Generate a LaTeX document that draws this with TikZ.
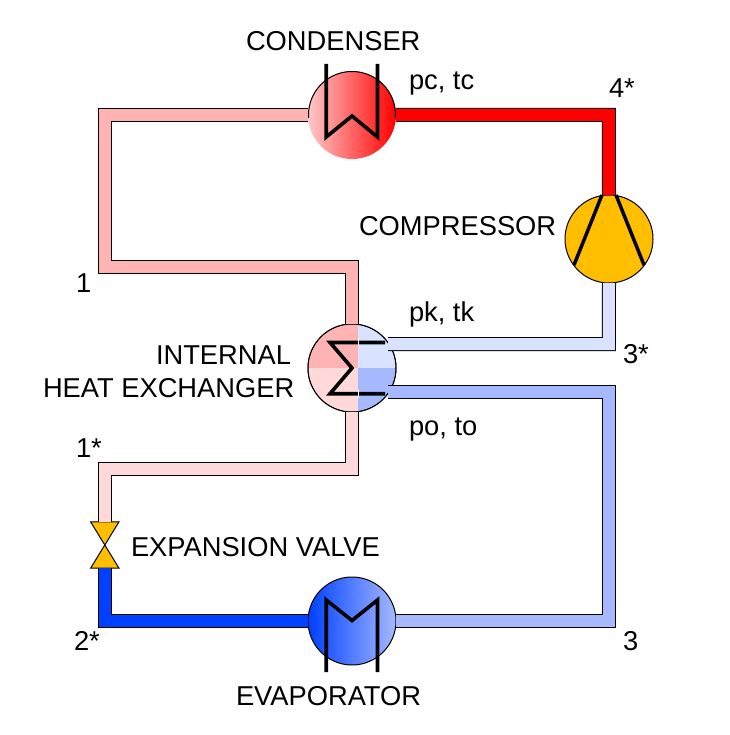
\documentclass[tikz,border=0pt]{standalone}
\usepackage{fontspec}
\setmainfont{Liberation Sans}
\definecolor{hotpipe}{HTML}{FF0000}
\definecolor{warmpipe}{HTML}{FFB3B3}
\definecolor{palepink}{HTML}{FFD9D9}
\definecolor{shellpink}{HTML}{FFC8C8}
\definecolor{paleblue}{HTML}{D9E3FF}
\definecolor{midblue}{HTML}{A6B9FF}
\definecolor{coldpipe}{HTML}{0040FF}
\definecolor{amber}{HTML}{FFBF00}
\tikzset{
  x=1pt,y=-1pt,
  vessel/.style={circle,draw=black,line width=1pt,minimum size=88pt,inner sep=0pt,outer sep=0pt},
  pipe/.style={line width=1pt,draw=black,double=#1,double distance=12pt,line join=miter},
  coil/.style={draw=black,line width=3.6pt,line join=miter},
  blade/.style={draw=black,line width=3.5pt},
  lbl/.style={anchor=base west,inner sep=0pt,outer sep=0pt,font=\fontsize{27.3}{30}\selectfont}
}
\begin{document}
\begin{tikzpicture}
\useasboundingbox (0,0) rectangle (729,735);
% vessels; the condenser shell carries its outline on the upper half only
\node[vessel,draw=none,left color=shellpink,right color=hotpipe] (cond) at (352,115) {};
\begin{scope}
  \clip (300,60) rectangle (400,118);
  \draw[black,line width=1pt] (352,115) circle (43.5);
\end{scope}
\node[vessel,fill=amber] (comp) at (609,239) {};
\node[vessel,left color=coldpipe,right color=midblue] (evap) at (352,621) {};
\node[vessel] (hx) at (352,368) {};
% heat exchanger quadrants
\begin{scope}
  \clip (352,368) circle (43.5);
  \fill[warmpipe] (300,320) rectangle (358,368);
  \fill[palepink] (300,368) rectangle (358,416);
  \fill[paleblue] (358,320) rectangle (400,368);
  \fill[midblue] (358,368) rectangle (400,416);
\end{scope}
\node[vessel] (hxo) at (352,368) {};
% expansion valve
\node[draw=none,inner sep=0pt,minimum width=28pt,minimum height=46pt] (valve) at (104.8,545) {};
\filldraw[fill=amber,draw=black,line width=1pt,line join=miter]
  (valve.north west) -- (valve.north east) -- (valve.south west) -- (valve.south east) -- cycle;
% pipe free ends on the exchanger rim
\coordinate (hxA) at (388,344);
\coordinate (hxB) at (388,392);
\coordinate (c1) at (104.8,115);
\coordinate (c2) at (104.8,266.7);
\coordinate (c3) at (352,266.7);
\coordinate (c4) at (352,469);
\coordinate (c5) at (104.8,469);
\coordinate (c6) at (104.8,621);
\coordinate (c7) at (608.8,115);
\coordinate (c8) at (608.8,344);
\coordinate (c9) at (608.8,392);
\coordinate (c10) at (608.8,621);
% pipes
\draw[pipe=warmpipe] (cond.west) -- (c1) -- (c2) -- (c3) -- (hx.north);
\draw[pipe=palepink] (hx.south) -- (c4) -- (c5) -- (valve.north);
\draw[pipe=coldpipe] (valve.south) -- (c6) -- (evap.west);
\draw[pipe=midblue] (evap.east) -- (c10) -- (c9) -- (hxB);
\draw[pipe=paleblue] (hxA) -- (c8) -- (comp.south);
\draw[pipe=hotpipe] (comp.north) -- (c7) -- (cond.east);
% coils
\draw[coil] (326.2,64) -- (326.2,137) -- (352,116) -- (377.5,137) -- (377.5,64);
\draw[coil] (326.2,672) -- (326.2,600) -- (352,620.5) -- (377.5,600) -- (377.5,672);
\draw[coil] (385,342.5) -- (330,342.5) -- (352,368) -- (330,393.7) -- (385,393.7);
\draw[white,line width=1pt] (358.3,338) -- (358.3,346) (358.3,390) -- (358.3,398);
% compressor blades
\draw[blade] (602,195) -- (574,265);
\draw[blade] (616,195) -- (644,265);
% labels
\node[lbl] (tcond) at (246,51) {CONDENSER};
\node[lbl] (tpc) at (409,90) {pc, tc};
\node[lbl] (t4s) at (609,98) {4*};
\node[lbl] (tcomp) at (359,235) {COMPRESSOR};
\node[lbl] (t1) at (76,292) {1};
\node[lbl] (tpk) at (409,321) {pk, tk};
\node[lbl] (tint) at (156,364) {INTERNAL};
\node[lbl] (theat) at (43,397) {HEAT EXCHANGER};
\node[lbl] (t3s) at (623,363) {3*};
\node[lbl] (tpo) at (409,435) {po, to};
\node[lbl] (t1s) at (76,457) {1*};
\node[lbl] (texp) at (131,556) {EXPANSION VALVE};
\node[lbl] (t2s) at (74,650) {2*};
\node[lbl] (t3) at (623,650) {3};
\node[lbl] (tevap) at (236,705) {EVAPORATOR};
\end{tikzpicture}
\end{document}
